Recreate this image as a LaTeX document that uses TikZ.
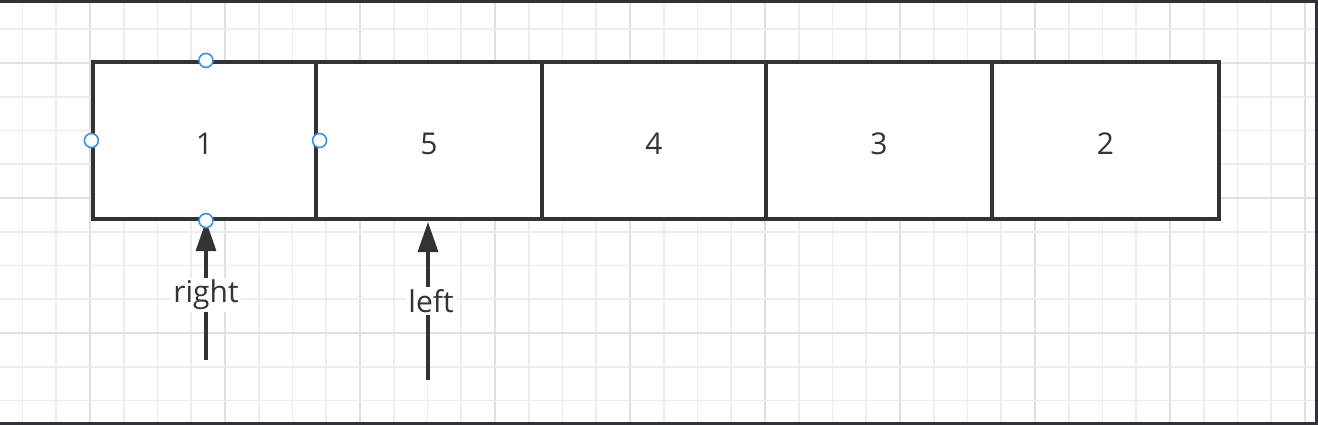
\documentclass[tikz,border=0pt]{standalone}
\usepackage{fontspec}
\setmainfont{Open Sans}
\usetikzlibrary{arrows.meta}
\definecolor{ink}{HTML}{333333}
\definecolor{gridminor}{HTML}{EDEDED}
\definecolor{gridmajor}{HTML}{E0E0E0}
\definecolor{frame}{HTML}{2F3338}
\definecolor{handle}{HTML}{3B8FF0}
\tikzset{
  cell/.style={draw=ink, line width=3.2pt, fill=white, inner sep=0pt,
    minimum height=157pt, text height=28pt, text depth=0pt,
    text=ink, font=\fontsize{30}{33}\selectfont},
  ptr/.style={draw=ink, line width=3.2pt, -{Triangle[width=20pt,length=30pt]}},
  ptrlabel/.style={fill=white, text=ink, inner sep=2pt, font=\fontsize{30}{33}\selectfont},
  grip/.style={circle, draw=handle, fill=white, line width=1.6pt, minimum size=14pt, inner sep=0pt},
}
\begin{document}
\begin{tikzpicture}[x=1pt,y=-1pt]
\useasboundingbox (0,0) rectangle (1318,425);
\fill[white] (0,0) rectangle (1318,425);
% grid
\foreach \i in {0,...,38} {
  \pgfmathsetmacro{\gx}{22.5+33.75*\i}
  \pgfmathtruncatemacro{\m}{mod(\i,4)}
  \ifnum\m=2 \draw[gridmajor,line width=1.6pt] (\gx,0) -- (\gx,425);
  \else \draw[gridminor,line width=1.6pt] (\gx,0) -- (\gx,425); \fi
}
\foreach \j in {0,...,11} {
  \pgfmathsetmacro{\gy}{29.25+33.75*\j}
  \pgfmathtruncatemacro{\m}{mod(\j,4)}
  \ifnum\m=1 \draw[gridmajor,line width=1.6pt] (0,\gy) -- (1318,\gy);
  \else \draw[gridminor,line width=1.6pt] (0,\gy) -- (1318,\gy); \fi
}
% frame
\fill[frame] (0,0) rectangle (1318,3);
\fill[frame] (0,422) rectangle (1318,425);
\fill[frame] (1315,0) rectangle (1318,425);
% cells
\node[cell, minimum width=223pt] (c1) at (204.5,140.5) {1};
\node[cell, minimum width=226pt] (c2) at (429,140.5) {5};
\node[cell, minimum width=224pt] (c3) at (654,140.5) {4};
\node[cell, minimum width=226pt] (c4) at (879,140.5) {3};
\node[cell, minimum width=227pt] (c5) at (1105.5,140.5) {2};
% pointers
\coordinate (rb) at (206,360);
\coordinate (rt) at (206,221);
\coordinate (lb) at (428,380);
\coordinate (lt) at (428,222);
\draw[ptr] (rb) -- (rt) node[ptrlabel, pos=0.47] (rl) {right};
\draw[ptr] (lb) -- (lt) node[ptrlabel, pos=0.5, xshift=3pt] (ll) {left};
% selection handles
\node[grip] (h1) at ([xshift=1.5pt]c1.north) {};
\node[grip] (h2) at (c1.west) {};
\node[grip] (h3) at ([xshift=2pt]c1.east) {};
\node[grip] (h4) at ([xshift=1.5pt]c1.south) {};
\end{tikzpicture}
\end{document}
